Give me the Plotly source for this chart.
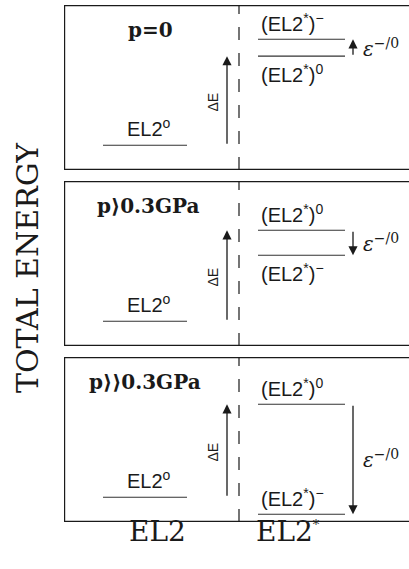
import plotly.graph_objects as go

# Energy scheme of EL2 and its metastable state EL2* under hydrostatic pressure
panel_titles = ["p=0", "p⟩0.3GPa", "p⟩⟩0.3GPa"]
el2_ground = [0.0, 0.0, 0.0]            # EL2^0 level (reference)
el2m_neutral = [4.86, 4.96, 5.07]       # (EL2*)^0 level
el2m_negative = [5.78, 3.60, -0.93]     # (EL2*)^- level
neg_label_side = ["above", "below", "above"]
neu_label_side = ["below", "above", "above"]

col_labels = ["EL2", "EL2<sup><span style='font-size:13px'>*</span></sup>"]
y_title = "TOTAL ENERGY"

W, H = 409, 569
INK = "#1a1a1a"
SERIF = "DejaVu Serif"
SANS = "Liberation Sans"

# panel geometry (pixel rows of each frame)
frames = [(5, 170), (181, 346), (357, 522)]
x_left = 64
YR = [-1.35, 7.65]
XR = [0, W - x_left]

# horizontal positions in axis units
GX0, GX1 = 39, 123          # EL2^0 bar
DEX = 163                   # Delta E arrow
DASHX = 175                 # configuration divider
MX0, MX1 = 194, 281         # EL2* bars
EPX = 289                   # epsilon arrow
TITLE_X = [86, 84, 81]

fig = go.Figure()
annotations = []

for i in range(3):
    sfx = "" if i == 0 else str(i + 1)
    xa, ya = "x" + sfx, "y" + sfx
    top, bot = frames[i]
    axis_style = dict(showgrid=False, zeroline=False, showticklabels=False, ticks="",
                      showline=False, fixedrange=True)
    fig.update_layout(**{
        "xaxis" + sfx: dict(domain=[x_left / W, 1.0], range=XR, anchor=ya, **axis_style),
        "yaxis" + sfx: dict(domain=[1 - bot / H, 1 - top / H], range=YR, anchor=xa, **axis_style),
    })

    # frame open on the right (half of each stroke is clipped at the plot edge)
    fig.add_trace(go.Scatter(x=[XR[1], XR[0], XR[0], XR[1]],
                             y=[YR[1], YR[1], YR[0], YR[0]],
                             mode="lines", xaxis=xa, yaxis=ya,
                             line=dict(color=INK, width=2.4),
                             hoverinfo="skip", showlegend=False))

    g, n, m = el2_ground[i], el2m_neutral[i], el2m_negative[i]

    # divider between the two configurations
    fig.add_trace(go.Scatter(x=[DASHX, DASHX], y=YR, mode="lines", xaxis=xa, yaxis=ya,
                             line=dict(color=INK, width=1.2, dash="13px,13px"),
                             hoverinfo="skip", showlegend=False))
    # energy levels
    for (x0, x1, lev) in [(GX0, GX1, g), (MX0, MX1, n), (MX0, MX1, m)]:
        fig.add_trace(go.Scatter(x=[x0, x1], y=[lev, lev], mode="lines", xaxis=xa, yaxis=ya,
                                 line=dict(color="#333333", width=1.1),
                                 hoverinfo="skip", showlegend=False))

    # panel title
    annotations.append(dict(x=TITLE_X[i], y=6.3, xref=xa, yref=ya,
                            text="<b>%s</b>" % panel_titles[i],
                            showarrow=False, font=dict(family=SERIF, size=20, color=INK)))
    # EL2^0 label
    annotations.append(dict(x=(GX0 + GX1) / 2 + 4, y=g, xref=xa, yref=ya, text="EL2<sup>o</sup>",
                            showarrow=False, yanchor="bottom", yshift=3,
                            font=dict(family=SANS, size=20, color=INK)))
    # Delta E arrow and label
    annotations.append(dict(x=DEX, y=n, ax=DEX, ay=g, xref=xa, yref=ya, axref=xa, ayref=ya,
                            text="", showarrow=True, arrowhead=2, arrowsize=1.4,
                            arrowwidth=1.3, arrowcolor=INK))
    annotations.append(dict(x=DEX - 14, y=(g + n) / 2 - 0.1, xref=xa, yref=ya, text="ΔE",
                            textangle=-90, showarrow=False,
                            font=dict(family=SANS, size=14, color=INK)))
    # EL2* level labels
    for lev, side, txt in [(n, neu_label_side[i], "(EL2<sup>*</sup>)<sup>0</sup>"),
                           (m, neg_label_side[i], "(EL2<sup>*</sup>)<sup>−</sup>")]:
        annotations.append(dict(x=MX0 + 1, y=lev, xref=xa, yref=ya, text=txt, showarrow=False,
                                xanchor="left",
                                yanchor="bottom" if side == "above" else "top",
                                yshift=2 if side == "above" else -3,
                                font=dict(family=SANS, size=20, color=INK)))
    # epsilon(-/0) arrow from (EL2*)^0 to (EL2*)^-
    annotations.append(dict(x=EPX, y=m, ax=EPX, ay=n, xref=xa, yref=ya, axref=xa, ayref=ya,
                            text="", showarrow=True, arrowhead=2, arrowsize=1.4,
                            arrowwidth=1.3, arrowcolor=INK))
    annotations.append(dict(x=EPX + 8, y=(n + m) / 2, xref=xa, yref=ya,
                            text="<i>ε</i><sup>−/0</sup>", showarrow=False, xanchor="left",
                            font=dict(family=SERIF, size=20, color=INK)))

# configuration labels under the panels
annotations.append(dict(x=157 / W, y=1 - 550 / H, xref="paper", yref="paper", text=col_labels[0],
                        showarrow=False, font=dict(family=SERIF, size=28, color=INK)))
annotations.append(dict(x=322 / W, y=1 - 550 / H, xref="paper", yref="paper", text=col_labels[1],
                        showarrow=False, font=dict(family=SERIF, size=28, color=INK)))
# vertical axis title
annotations.append(dict(x=28 / W, y=1 - 268 / H, xref="paper", yref="paper", text=y_title,
                        textangle=-90, showarrow=False, xanchor="center",
                        font=dict(family=SERIF, size=30, color=INK)))

fig.update_layout(width=W, height=H, margin=dict(l=0, r=0, t=0, b=0),
                  paper_bgcolor="white", plot_bgcolor="white",
                  annotations=annotations, showlegend=False)

fig.write_html("out.html", config={"displayModeBar": False})
